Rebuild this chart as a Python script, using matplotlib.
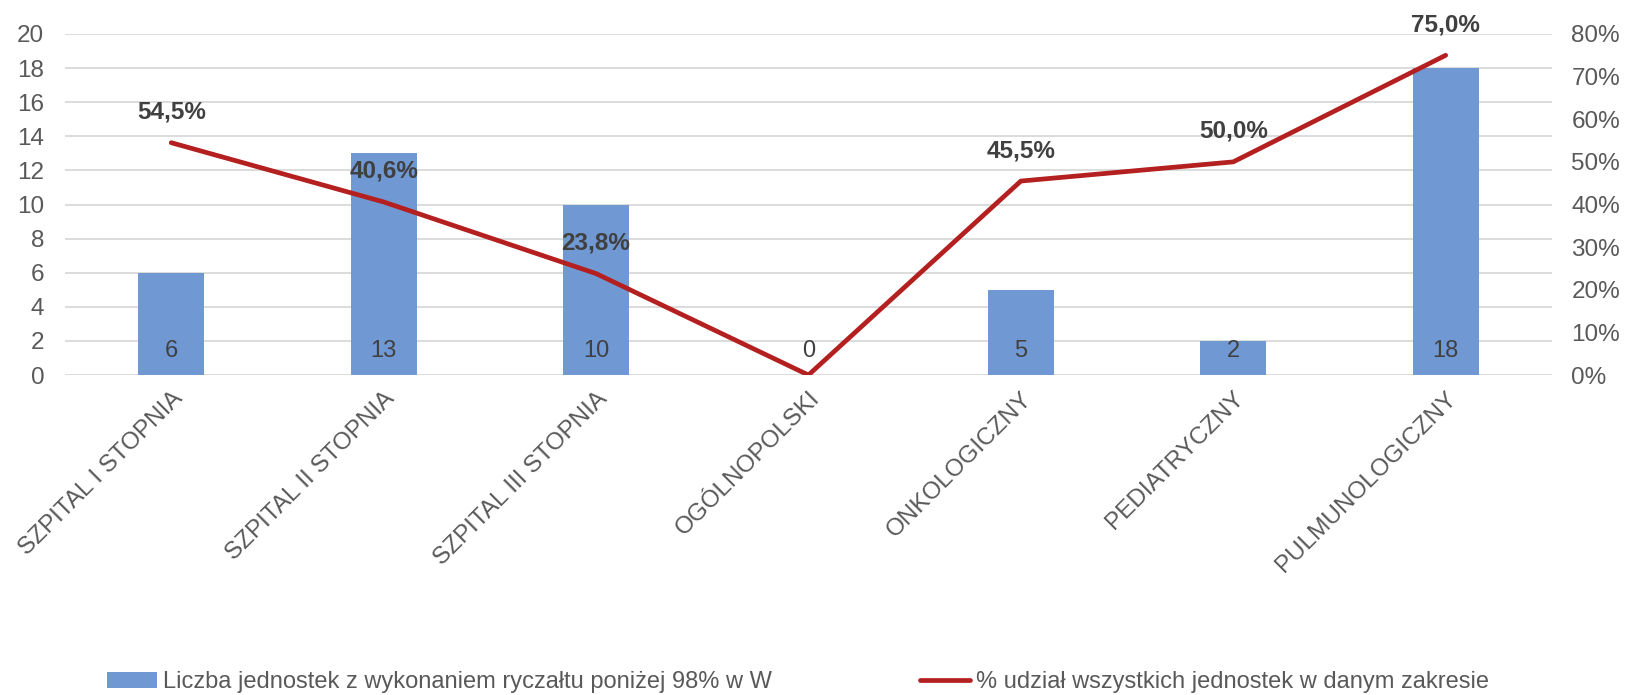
import matplotlib.pyplot as plt
import numpy as np
from matplotlib.ticker import FuncFormatter

plt.rcParams["font.family"] = ["Liberation Sans", "DejaVu Sans"]

categories = [
    "SZPITAL I STOPNIA",
    "SZPITAL II STOPNIA",
    "SZPITAL III STOPNIA",
    "OGÓLNOPOLSKI",
    "ONKOLOGICZNY",
    "PEDIATRYCZNY",
    "PULMUNOLOGICZNY",
]
counts = [6, 13, 10, 0, 5, 2, 18]
shares = [54.5, 40.6, 23.8, 0.0, 45.5, 50.0, 75.0]

bar_label = "Liczba jednostek z wykonaniem ryczałtu poniżej 98% w W"
line_label = "% udział wszystkich jednostek w danym zakresie"

bar_color = "#7098D3"
line_color = "#B41F1F"
tick_color = "#595959"
label_color = "#404040"
fs = 17

fig = plt.figure(figsize=(16.25, 6.95), dpi=100)
ax = fig.add_axes([0.04, 0.4604, 0.915, 0.4907])
ax2 = ax.twinx()

x = np.arange(len(categories))
bars = ax.bar(x, counts, width=0.31, color=bar_color, zorder=2)

ax.set_xlim(-0.5, len(categories) - 0.5)
ax.set_ylim(0, 20)
ax.set_yticks(range(0, 21, 2))
ax.grid(axis="y", color="#D9D9D9", linewidth=1.3, zorder=0)
ax.set_axisbelow(True)

for a in (ax, ax2):
    for s in a.spines.values():
        s.set_visible(False)

ax.tick_params(axis="y", length=0, pad=15, labelsize=17.5, labelcolor=tick_color)
ax.tick_params(axis="x", length=0, pad=9, labelsize=17.5, labelcolor=tick_color)
ax.set_xticks(x)
ax.set_xticklabels(categories, rotation=45, ha="right", rotation_mode="anchor")

# values inside bar base
for xi, v in zip(x, counts):
    ax.annotate(str(v), (xi, 0), xytext=(0, 17), textcoords="offset points",
                ha="center", va="center", fontsize=fs, color=label_color)

ax2.plot(x, shares, color=line_color, linewidth=3.4, solid_capstyle="round",
         zorder=3)
ax2.set_ylim(0, 80)
ax2.set_yticks(range(0, 81, 10))
ax2.yaxis.set_major_formatter(FuncFormatter(lambda v, p: f"{v:.0f}%"))
ax2.tick_params(axis="y", length=0, pad=14, labelsize=17.5, labelcolor=tick_color)

for xi, v in zip(x, shares):
    if v == 0:
        continue
    ax2.annotate(f"{v:.1f}%".replace(".", ","), (xi, v), xytext=(0, 22),
                 textcoords="offset points", ha="center", va="center",
                 fontsize=17.5, fontweight="bold", color=label_color)

handles = [bars, ax2.lines[0]]
fig.legend(handles, [bar_label, line_label], loc="center left",
           bbox_to_anchor=(0.053, 0.018), ncol=2, frameon=False,
           fontsize=fs, handlelength=2.1, handletextpad=0.25,
           columnspacing=6.3, labelcolor=tick_color)

fig.savefig("out.png", dpi=100)
